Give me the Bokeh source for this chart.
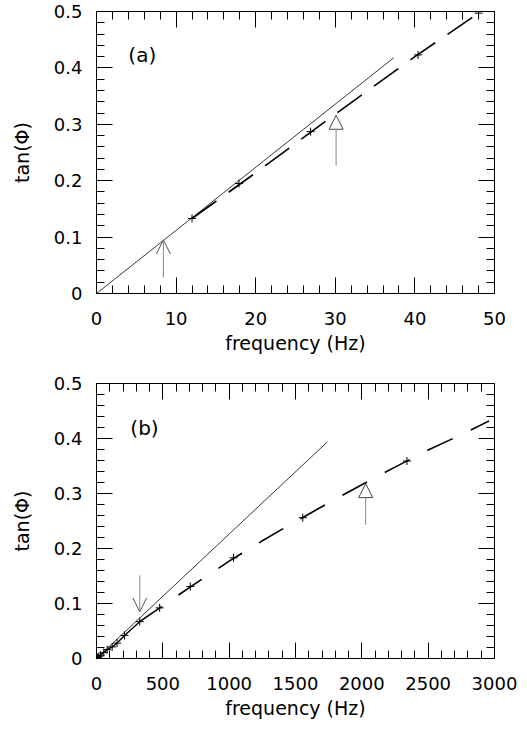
from bokeh.plotting import figure
from bokeh.layouts import column
from bokeh.models import (Range1d, LinearAxis, SingleIntervalTicker, CustomJSTickFormatter,
                          Arrow, OpenHead, NormalHead, Label)
from bokeh.embed import file_html
from bokeh.resources import INLINE

# ---------------- data ----------------
# panel (a)
a_freq = [12.0, 17.9, 26.9, 40.4, 48.0]
a_tan = [0.133, 0.195, 0.287, 0.423, 0.497]
a_lin_x = [0.0, 37.35]
a_lin_y = [0.0, 0.418]
a_fit_x = [12.0, 20.0, 30.0, 40.0, 48.3]
a_fit_y = [0.133, 0.214, 0.318, 0.420, 0.500]
a_arrow1 = dict(x=8.4, y0=0.028, y1=0.095)
a_arrow2 = dict(x=30.1, y0=0.227, y1=0.316)

# panel (b)
b_freq = [5, 10, 18, 30, 55, 80, 118, 155, 211, 326, 476, 707, 1033, 1555, 2340]
b_tan = [0.001, 0.002, 0.004, 0.006, 0.011, 0.016, 0.021, 0.028, 0.042, 0.067, 0.092,
         0.131, 0.183, 0.256, 0.359]
b_lin_x = [0.0, 1741.0]
b_lin_y = [0.0, 0.394]
b_fit_x = [320, 500, 750, 1000, 1250, 1500, 1750, 2000, 2250, 2500, 2750, 2960]
b_fit_y = [0.066, 0.096, 0.137, 0.177, 0.214, 0.249, 0.283, 0.316, 0.348, 0.379, 0.407, 0.432]
b_arrow1 = dict(x=326, y0=0.151, y1=0.085)
b_arrow2 = dict(x=2029, y0=0.243, y1=0.318)

FONT = "DejaVu Sans"


def style(p, xint):
    yt = SingleIntervalTicker(interval=0.1, num_minor_ticks=5)
    xt = SingleIntervalTicker(interval=xint, num_minor_ticks=5)
    p.xaxis.ticker = xt
    p.yaxis.ticker = yt
    p.yaxis.formatter = CustomJSTickFormatter(code="return Math.abs(tick) < 1e-9 ? '0' : tick.toFixed(1);")
    for ax in (p.xaxis[0], p.yaxis[0]):
        ax.major_tick_in = 16
        ax.major_tick_out = 0
        ax.minor_tick_in = 8
        ax.minor_tick_out = 0
        ax.axis_line_color = "black"
        ax.major_tick_line_color = "black"
        ax.minor_tick_line_color = "black"
        ax.major_label_text_font = FONT
        ax.major_label_text_font_size = "18px"
        ax.major_label_text_color = "black"
        ax.axis_label_text_font = FONT
        ax.axis_label_text_font_size = "19px"
        ax.axis_label_text_font_style = "normal"
        ax.axis_label_text_color = "black"
    p.xaxis.major_label_standoff = 18
    p.xaxis.axis_label_standoff = 4
    p.yaxis.major_label_standoff = 14
    p.yaxis.axis_label_standoff = 18
    for loc, tk in (("above", xt), ("right", yt)):
        ax = LinearAxis(ticker=tk, major_label_standoff=0,
                        formatter=CustomJSTickFormatter(code="return '';"),
                        major_tick_in=16, major_tick_out=0, minor_tick_in=8, minor_tick_out=0,
                        axis_line_color="black")
        p.add_layout(ax, loc)
    p.grid.visible = False
    p.outline_line_color = "black"
    p.background_fill_color = "white"
    p.border_fill_color = "white"


# ---------------- panel (a) ----------------
p1 = figure(width=519, height=362, output_backend="svg", toolbar_location=None,
            x_range=Range1d(0, 50), y_range=Range1d(0, 0.5),
            min_border_top=11, min_border_bottom=69, min_border_left=96, min_border_right=25,
            x_axis_label="frequency (Hz)", y_axis_label="tan(Φ)")
style(p1, 10)
p1.line(a_lin_x, a_lin_y, line_color="black", line_width=0.8)
p1.line(a_fit_x, a_fit_y, line_color="black", line_width=1.6, line_dash="30 15")
p1.scatter(a_freq, a_tan, marker="cross", size=8, line_color="black", line_width=1)
p1.add_layout(Arrow(end=OpenHead(size=14, line_color="#555", line_width=1),
                    x_start=a_arrow1["x"], y_start=a_arrow1["y0"],
                    x_end=a_arrow1["x"], y_end=a_arrow1["y1"],
                    line_color="#888", line_width=1))
p1.add_layout(Arrow(end=NormalHead(size=14, line_color="#444", line_width=1, fill_color="white"),
                    x_start=a_arrow2["x"], y_start=a_arrow2["y0"],
                    x_end=a_arrow2["x"], y_end=a_arrow2["y1"],
                    line_color="#888", line_width=1))
p1.add_layout(Label(x=4.0, y=0.422, text="(a)", text_font=FONT, text_font_size="20px",
                    text_baseline="middle", text_color="black"))

# ---------------- panel (b) ----------------
p2 = figure(width=519, height=359, output_backend="svg", toolbar_location=None,
            x_range=Range1d(0, 3000), y_range=Range1d(0, 0.5),
            min_border_top=21, min_border_bottom=58, min_border_left=96, min_border_right=25,
            x_axis_label="frequency (Hz)", y_axis_label="tan(Φ)")
style(p2, 500)
p2.line(b_lin_x, b_lin_y, line_color="black", line_width=0.8)
p2.line(b_fit_x, b_fit_y, line_color="black", line_width=1.6, line_dash="28 20")
p2.line(b_freq[:10], b_tan[:10], line_color="black", line_width=1.4)
p2.scatter(b_freq, b_tan, marker="cross", size=8, line_color="black", line_width=1)
p2.add_layout(Arrow(end=OpenHead(size=14, line_color="#555", line_width=1),
                    x_start=b_arrow1["x"], y_start=b_arrow1["y0"],
                    x_end=b_arrow1["x"], y_end=b_arrow1["y1"],
                    line_color="#888", line_width=1))
p2.add_layout(Arrow(end=NormalHead(size=14, line_color="#444", line_width=1, fill_color="white"),
                    x_start=b_arrow2["x"], y_start=b_arrow2["y0"],
                    x_end=b_arrow2["x"], y_end=b_arrow2["y1"],
                    line_color="#888", line_width=1))
p2.add_layout(Label(x=255, y=0.42, text="(b)", text_font=FONT, text_font_size="20px",
                    text_baseline="middle", text_color="black"))

layout = column(p1, p2, spacing=0)
open("out.html", "w").write(file_html(layout, INLINE))
